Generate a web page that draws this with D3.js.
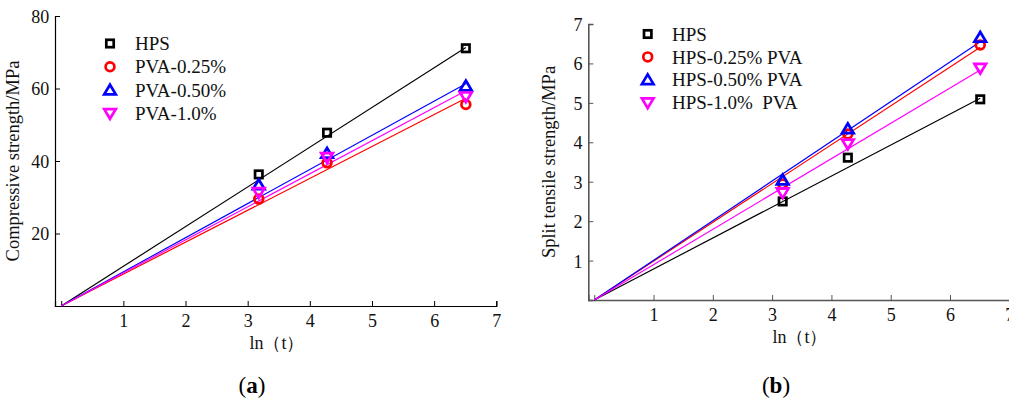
<!DOCTYPE html>
<html>
<head>
<meta charset="utf-8">
<script src="https://cdn.jsdelivr.net/npm/d3@7"></script>
<style>
  html, body { margin: 0; padding: 0; background: #fff; }
  svg { display: block; }
  text { font-family: "Liberation Serif", "Times New Roman", serif; }
</style>
</head>
<body>
<svg id="chart" width="1009" height="408"></svg>
<script>
// Curing age on a log scale: ln(t), t in hours (1 d, 3 d, 28 d)
const lnT = [3.178, 4.277, 6.51];

// (a) compressive strength, MPa
const compNames = ["HPS", "PVA-0.25%", "PVA-0.50%", "PVA-1.0%"];
const compHPS   = [36.3, 47.8, 71.1];
const compP025  = [29.5, 39.5, 55.6];
const compP050  = [33.4, 42.1, 60.7];
const compP100  = [31.3, 41.0, 57.7];
const compSlopes = [10.95, 8.8, 9.42, 9.12];   // fitted lines through the origin
const compYTicks = [20, 40, 60, 80];

// (b) split tensile strength, MPa
const splitNames = ["HPS", "HPS-0.25% PVA", "HPS-0.50% PVA", "HPS-1.0%  PVA"];
const splitHPS   = [2.50, 3.61, 5.09];
const splitP025  = [2.94, 4.21, 6.47];
const splitP050  = [3.04, 4.34, 6.66];
const splitP100  = [2.72, 3.96, 5.88];
const splitSlopes = [0.786, 0.985, 1.006, 0.896];
const splitYTicks = [1, 2, 3, 4, 5, 6, 7];

const xTicks = [0, 1, 2, 3, 4, 5, 6, 7];
const colors = ["#000000", "#ff0000", "#0000ff", "#ff00ff"];
const markers = ["square", "circle", "up", "down"];

const svg = d3.select("#chart");

function marker(g, type, cx, cy, color) {
  const sw = 2.7;
  if (type === "square") {
    g.append("rect").attr("x", cx - 3.7).attr("y", cy - 3.7)
      .attr("width", 7.4).attr("height", 7.4)
      .attr("fill", "none").attr("stroke", color).attr("stroke-width", sw);
  } else if (type === "circle") {
    g.append("circle").attr("cx", cx).attr("cy", cy).attr("r", 4.4)
      .attr("fill", "none").attr("stroke", color).attr("stroke-width", sw);
  } else {
    const s = type === "up" ? 1 : -1;
    const h = 5.4, w = 5.8;
    const pts = [[cx, cy - s * h], [cx + w, cy + s * h * 0.8], [cx - w, cy + s * h * 0.8]];
    g.append("path").attr("d", "M" + pts.map(p => p.join(",")).join("L") + "Z")
      .attr("fill", "none").attr("stroke", color).attr("stroke-width", sw)
      .attr("stroke-linejoin", "miter");
  }
}

function panel(opt) {
  const x = d3.scaleLinear().domain([-0.1, 7]).range(opt.xRange);
  const y = d3.scaleLinear().domain([0, opt.yMax]).range(opt.yRange);
  const g = svg.append("g");

  // axes (ticks point inward)
  const xAxis = d3.axisBottom(x).tickValues(xTicks).tickSize(-5)
    .tickFormat(d => d === 0 ? "" : d3.format("d")(d));
  const yAxis = d3.axisLeft(y).tickValues(opt.yTicks).tickSize(-5)
    .tickFormat(d3.format("d"));

  const gx = g.append("g").attr("transform", `translate(0,${opt.yRange[0]})`).call(xAxis);
  const gy = g.append("g").attr("transform", `translate(${opt.xRange[0]},0)`).call(yAxis);
  [gx, gy].forEach(a => {
    a.select(".domain").attr("stroke", opt.axisColor).attr("stroke-width", opt.axisWidth);
    a.selectAll(".tick line").attr("stroke", opt.axisColor).attr("stroke-width", 1);
    a.selectAll(".tick text").attr("fill", "#111").style("font-size", "18px")
      .style("font-family", "'Liberation Serif', serif");
  });
  gx.selectAll(".tick text").attr("dy", "1.0em");
  gy.selectAll(".tick text").attr("dx", "-0.15em").attr("dy", "0.36em");

  // fitted lines
  opt.slopes.forEach((k, i) => {
    g.append("line")
      .attr("x1", x(0)).attr("y1", y(0))
      .attr("x2", x(lnT[2])).attr("y2", y(k * lnT[2]))
      .attr("stroke", colors[i]).attr("stroke-width", 1.2);
  });

  // measured points
  opt.series.forEach((vals, i) => {
    vals.forEach((v, j) => marker(g, markers[i], x(lnT[j]), y(v), colors[i]));
  });

  // legend
  opt.names.forEach((n, i) => {
    const ly = opt.legend.y + i * opt.legend.dy;
    marker(g, markers[i], opt.legend.x, ly, colors[i]);
    g.append("text").attr("x", opt.legend.tx).attr("y", ly).attr("dy", "0.35em")
      .style("font-size", "19px").style("white-space", "pre").attr("fill", "#111")
      .text(n);
  });

  // axis titles
  g.append("text")
    .attr("transform", `translate(${opt.yTitle.x},${opt.yTitle.y}) rotate(-90)`)
    .attr("text-anchor", "middle").style("font-size", "18.5px").attr("fill", "#111")
    .text(opt.yTitle.text);
  g.append("text").attr("x", opt.xTitle.x).attr("y", opt.xTitle.y)
    .attr("text-anchor", "middle").style("font-size", "18px").attr("fill", "#111")
    .text("ln（t）");

  // panel tag
  const tag = g.append("text").attr("x", opt.tag.x).attr("y", opt.tag.y)
    .attr("text-anchor", "middle").style("font-size", "23px").attr("fill", "#000");
  tag.append("tspan").text("(");
  tag.append("tspan").style("font-weight", "bold").text(opt.tag.letter);
  tag.append("tspan").text(")");
}

panel({
  xRange: [55, 496.3], yRange: [306, 16], yMax: 80, yTicks: compYTicks,
  axisColor: "#000", axisWidth: 1.2,
  slopes: compSlopes, series: [compHPS, compP025, compP050, compP100], names: compNames,
  legend: { x: 110, tx: 135, y: 43.5, dy: 23.3 },
  yTitle: { x: 19, y: 161, text: "Compressive strength/MPa" },
  xTitle: { x: 277, y: 349 },
  tag: { x: 252, y: 393, letter: "a" }
});

panel({
  xRange: [588.3, 1009.3], yRange: [300, 24], yMax: 7, yTicks: splitYTicks,
  axisColor: "#555", axisWidth: 1.6,
  slopes: splitSlopes, series: [splitHPS, splitP025, splitP050, splitP100], names: splitNames,
  legend: { x: 647.7, tx: 672, y: 34, dy: 22.9 },
  yTitle: { x: 555, y: 162, text: "Split tensile strength/MPa" },
  xTitle: { x: 800, y: 343 },
  tag: { x: 776, y: 393, letter: "b" }
});
</script>
</body>
</html>
